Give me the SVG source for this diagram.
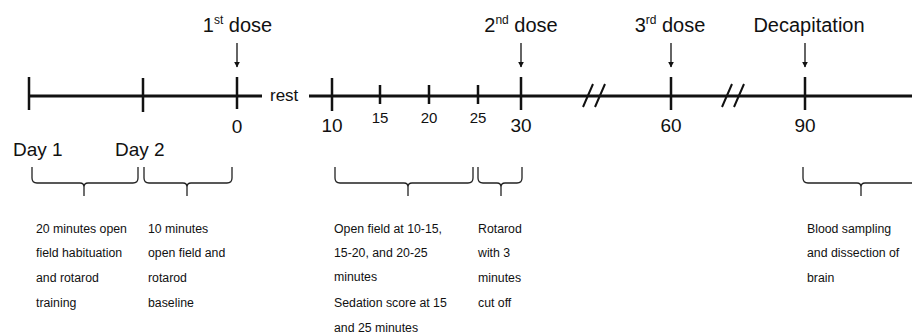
<svg xmlns="http://www.w3.org/2000/svg" width="912" height="335" viewBox="0 0 912 335">
<style>
text{font-family:"Liberation Sans",Arial,sans-serif;fill:#111}
.axis{stroke:#111;stroke-width:3;fill:none}
.tick{stroke:#111;stroke-width:2.5;fill:none}
.brk{stroke:#111;stroke-width:2;fill:none}
.arr{stroke:#111;stroke-width:1.3;fill:none}
.brace{stroke:#222;stroke-width:1.3;fill:none}
.big{font-size:20px}
.num{font-size:19px}
.sm{font-size:15px}
.body{font-size:12.3px}
</style>
<defs>
<marker id="ah" viewBox="0 0 10 10" refX="9" refY="5" markerWidth="6" markerHeight="6" orient="auto" markerUnits="userSpaceOnUse">
<path d="M0,0 L10,5 L0,10 z" fill="#111"/>
</marker>
</defs>
<rect width="912" height="335" fill="#fff"/>
<g id="connectors">
<path class="axis" d="M29,96 H262 M309,96 H912"/>
<path class="tick" d="M29,77 V110 M143,78 V112 M237,77 V109 M332,78 V111 M521,77 V110 M671,77 V110 M805,77 V110"/>
<path class="tick" d="M380,85 V104 M429,85 V104 M478,85 V104"/>
<path class="brk" d="M583,107 L593,84 M595,107 L605,84 M722,107 L732,84 M734,107 L744,84"/>
<path class="arr" marker-end="url(#ah)" d="M237,43 V67"/>
<path class="arr" marker-end="url(#ah)" d="M521,43 V67"/>
<path class="arr" marker-end="url(#ah)" d="M671,43 V67"/>
<path class="arr" marker-end="url(#ah)" d="M805,43 V67"/>
</g>
<g id="dose1"><text class="big" x="237.5" y="32" text-anchor="middle">1<tspan font-size="12" dy="-8">st</tspan><tspan dy="8"> dose</tspan></text></g>
<g id="dose2"><text class="big" x="521" y="32" text-anchor="middle">2<tspan font-size="12" dy="-8">nd</tspan><tspan dy="8"> dose</tspan></text></g>
<g id="dose3"><text class="big" x="670" y="32" text-anchor="middle">3<tspan font-size="12" dy="-8">rd</tspan><tspan dy="8"> dose</tspan></text></g>
<g id="decap"><text class="big" x="809" y="32" text-anchor="middle">Decapitation</text></g>
<g id="rest"><text x="270" y="101" font-size="17">rest</text></g>
<g id="days">
<text class="num" x="13" y="156">Day 1</text>
<text class="num" x="115" y="156">Day 2</text>
</g>
<g id="numbers" text-anchor="middle">
<text class="num" x="237" y="133">0</text>
<text class="num" x="332" y="132">10</text>
<text class="sm" x="380" y="123">15</text>
<text class="sm" x="429" y="123">20</text>
<text class="sm" x="478" y="123">25</text>
<text class="num" x="521" y="132">30</text>
<text class="num" x="671" y="132">60</text>
<text class="num" x="805" y="132">90</text>
</g>
<g id="braces">
<path class="brace" d="M32,167 V178 Q32,183 37,183 H80 Q84,183 84,187 V196 M84,187 Q84,183 88,183 H133 Q138,183 138,178 V167"/>
<path class="brace" d="M144,167 V178 Q144,183 149,183 H183 Q187,183 187,187 V196 M187,187 Q187,183 191,183 H227 Q232,183 232,178 V167"/>
<path class="brace" d="M335,167 V178 Q335,183 340,183 H404 Q408,183 408,187 V196 M408,187 Q408,183 412,183 H468 Q473,183 473,178 V167"/>
<path class="brace" d="M478,167 V178 Q478,183 483,183 H497 Q501,183 501,187 V196 M501,187 Q501,183 505,183 H517 Q522,183 522,178 V167"/>
<path class="brace" d="M803,167 V178 Q803,183 808,183 H857 Q861,183 861,187 V196 M861,187 Q861,183 865,183 H915"/>
</g>
<g id="note1">
<text class="body" x="36" y="233">20 minutes open</text>
<text class="body" x="36" y="257">field habituation</text>
<text class="body" x="36" y="282">and rotarod</text>
<text class="body" x="36" y="307">training</text>
</g>
<g id="note2">
<text class="body" x="148" y="233">10 minutes</text>
<text class="body" x="148" y="257">open field and</text>
<text class="body" x="148" y="282">rotarod</text>
<text class="body" x="148" y="307">baseline</text>
</g>
<g id="note3">
<text class="body" x="334" y="233">Open field at 10-15,</text>
<text class="body" x="334" y="257">15-20, and 20-25</text>
<text class="body" x="334" y="281">minutes</text>
<text class="body" x="334" y="307">Sedation score at 15</text>
<text class="body" x="334" y="332">and 25 minutes</text>
</g>
<g id="note4">
<text class="body" x="478" y="233">Rotarod</text>
<text class="body" x="478" y="257">with 3</text>
<text class="body" x="478" y="282">minutes</text>
<text class="body" x="478" y="307">cut off</text>
</g>
<g id="note5">
<text class="body" x="807" y="233">Blood sampling</text>
<text class="body" x="807" y="257">and dissection of</text>
<text class="body" x="807" y="282">brain</text>
</g>
</svg>
